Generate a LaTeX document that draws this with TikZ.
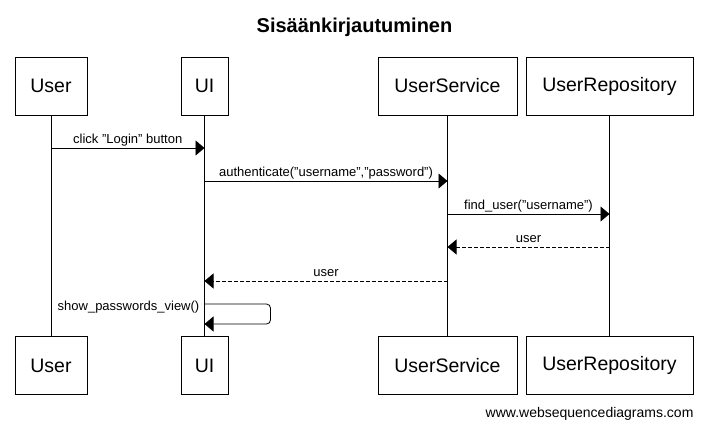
\documentclass[tikz,border=0pt]{standalone}
\usepackage{fontspec}
\setmainfont{Liberation Sans}
\usetikzlibrary{arrows.meta}
\usetikzlibrary{positioning}

\begin{document}
\begin{tikzpicture}[x=1pt, y=-1pt,
  actor/.style={draw, thick, minimum height=58pt, inner sep=0pt, font=\fontsize{19.5}{22}\selectfont},
  msg/.style={thick, -{Triangle[length=9pt,width=15pt]}},
  reply/.style={msg, dash pattern=on 4pt off 2pt},
  lbl/.style={font=\fontsize{13}{15}\selectfont, inner sep=0pt, anchor=base, yshift=5pt}]
\useasboundingbox (0,0) rectangle (707,429);
\node[font=\bfseries\fontsize{20}{24}\selectfont, anchor=base] (title) at (354.5,32) {Sisäänkirjautuminen};
% participants, top and bottom
\foreach \name/\txt/\x/\w in {user/User/51/72, ui/UI/204.5/47, service/UserService/447.5/139, repo/UserRepository/609.5/167} {
 \node[actor, minimum width=\w pt] (\name-top) at (\x,86) {\txt};
 \node[actor, minimum width=\w pt] (\name-bot) at (\x,365.5) {\txt};
 \draw[thick] (\name-top.south) -- (\name-bot.north);
}
% messages
\coordinate (m1a) at (user-top.south |- 0,148);  \coordinate (m1b) at (ui-top.south |- 0,148);
\coordinate (m2a) at (ui-top.south |- 0,181);    \coordinate (m2b) at (service-top.south |- 0,181);
\coordinate (m3a) at (service-top.south |- 0,214); \coordinate (m3b) at (repo-top.south |- 0,214);
\coordinate (m4a) at (repo-top.south |- 0,247);  \coordinate (m4b) at (service-top.south |- 0,247);
\coordinate (m5a) at (service-top.south |- 0,281); \coordinate (m5b) at (ui-top.south |- 0,281);
\coordinate (m6a) at (ui-top.south |- 0,304);    \coordinate (m6b) at (ui-top.south |- 0,324);
\draw[msg] (m1a) -- node[lbl] {click "Login" button} (m1b);
\draw[msg] (m2a) -- node[lbl] {authenticate("username","password")} (m2b);
\draw[msg] (m3a) -- node[lbl] {find\_user("username")} (m3b);
\draw[reply] (m4a) -- node[lbl] {user} (m4b);
\draw[reply] (m5a) -- node[lbl] {user} (m5b);
\draw[msg, rounded corners=4pt] (m6a) -- ++(66,0) |- (m6b);
\node[font=\fontsize{13}{15}\selectfont, inner sep=0pt, anchor=base east] (m6lbl) at ([xshift=-5pt, yshift=-6pt]m6a) {show\_passwords\_view()};
\node[font=\fontsize{14}{16}\selectfont, anchor=base east] (footer) at (697,417) {www.websequencediagrams.com};
\end{tikzpicture}
\end{document}
